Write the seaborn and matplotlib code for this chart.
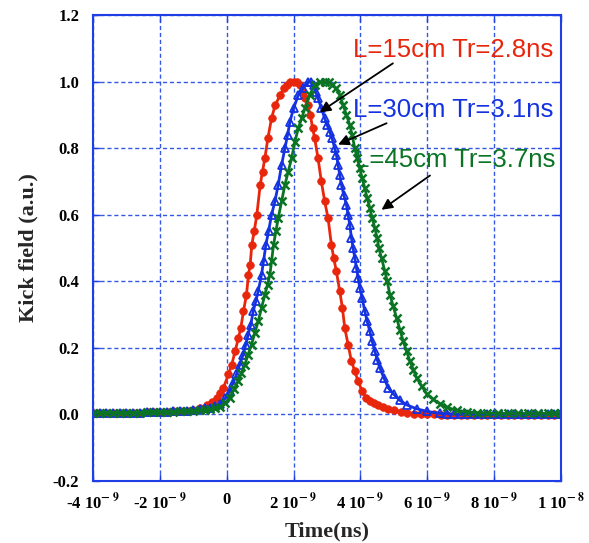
import numpy as np
import pandas as pd
import matplotlib
matplotlib.use("Agg")
import matplotlib.pyplot as plt
import seaborn as sns

# ---- data (time in ns, kick field in a.u.) ----
t_15 = [-4.0, -3.8, -3.6, -3.4, -3.2, -3.0, -2.8, -2.6, -2.4, -2.2, -2.0, -1.8, -1.6, -1.4, -1.2,
        -1.0, -0.8, -0.6, -0.45, -0.3, -0.2, -0.1, 0.05, 0.15, 0.25, 0.35, 0.42,
        0.50, 0.59, 0.65, 0.70, 0.75, 0.82, 0.90, 1.00, 1.07, 1.14, 1.23, 1.34, 1.45, 1.60, 1.70,
        1.80, 1.90, 2.00, 2.10, 2.20, 2.28, 2.35, 2.42, 2.50, 2.57, 2.63, 2.73, 2.83, 2.93, 3.03,
        3.13, 3.20, 3.28, 3.38, 3.46, 3.53, 3.63, 3.73, 3.83, 3.93, 4.05, 4.18, 4.30, 4.40, 4.53,
        4.67, 4.83, 5.00, 5.20, 5.40, 5.60, 5.80, 6.00, 6.2, 6.4, 6.6, 6.8, 7.0, 7.2, 7.4, 7.6, 7.8,
        8.0, 8.2, 8.4, 8.6, 8.8, 9.0, 9.2, 9.4, 9.6, 9.8, 10.0]
v_15 = [0.005, 0.005, 0.005, 0.005, 0.005, 0.005, 0.005, 0.005, 0.006, 0.006, 0.007, 0.008, 0.009, 0.010, 0.011,
        0.013, 0.018, 0.027, 0.037, 0.050, 0.063, 0.080, 0.12, 0.15, 0.19, 0.23, 0.26,
        0.31, 0.36, 0.42, 0.45, 0.51, 0.55, 0.60, 0.69, 0.73, 0.77, 0.83, 0.89, 0.93, 0.96, 0.98,
        0.99, 1.00, 1.00, 1.00, 0.99, 0.97, 0.95, 0.93, 0.90, 0.86, 0.83, 0.77, 0.70, 0.64, 0.59,
        0.51, 0.47, 0.43, 0.37, 0.32, 0.26, 0.21, 0.16, 0.13, 0.10, 0.07, 0.05, 0.04, 0.033, 0.027,
        0.022, 0.017, 0.012, 0.008, 0.004, 0.002, 0.001, 0.0, 0.0, -0.001, -0.001, -0.002, -0.002, -0.002, -0.002, -0.002, -0.002,
        -0.002, -0.002, -0.002, -0.002, -0.002, -0.002, -0.002, -0.002, -0.002, -0.002, -0.002]

t_30 = [-4.0, -3.8, -3.6, -3.4, -3.2, -3.0, -2.8, -2.6, -2.4, -2.2, -2.0, -1.8, -1.6, -1.4, -1.2,
        -1.0, -0.8, -0.65, -0.5, -0.35, -0.2, -0.05, 0.09, 0.19, 0.29, 0.39, 0.49, 0.57, 0.64, 0.72,
        0.79, 0.87, 0.94, 1.04, 1.10, 1.17, 1.25, 1.34, 1.44, 1.54, 1.64, 1.74, 1.82, 1.89, 2.00,
        2.14, 2.28, 2.44, 2.52, 2.60, 2.66, 2.73, 2.83, 2.93, 3.00, 3.08, 3.15, 3.23, 3.28, 3.33,
        3.38, 3.43, 3.50, 3.58, 3.63, 3.68, 3.73, 3.78, 3.83, 3.88, 3.93, 3.98, 4.05, 4.13, 4.20,
        4.28, 4.35, 4.43, 4.50, 4.58, 4.70, 4.83, 5.00, 5.18, 5.40, 5.68, 6.00, 6.38, 6.6, 6.8,
        7.0, 7.2, 7.4, 7.6, 7.8, 8.0, 8.2, 8.4, 8.6, 8.8, 9.0, 9.2, 9.4, 9.6, 9.8, 10.0]
v_30 = [0.005, 0.005, 0.005, 0.005, 0.005, 0.005, 0.005, 0.005, 0.006, 0.006, 0.007, 0.008, 0.009, 0.010, 0.011,
        0.012, 0.015, 0.018, 0.020, 0.025, 0.032, 0.048, 0.07, 0.095, 0.12, 0.15, 0.18, 0.21, 0.24, 0.27,
        0.31, 0.34, 0.37, 0.42, 0.46, 0.51, 0.55, 0.60, 0.64, 0.69, 0.75, 0.80, 0.84, 0.88, 0.92,
        0.96, 0.98, 1.00, 1.00, 0.99, 0.97, 0.95, 0.92, 0.89, 0.87, 0.85, 0.83, 0.80, 0.78, 0.75,
        0.72, 0.69, 0.66, 0.63, 0.60, 0.57, 0.53, 0.50, 0.47, 0.44, 0.41, 0.38, 0.35, 0.31, 0.28,
        0.25, 0.22, 0.19, 0.165, 0.14, 0.11, 0.08, 0.06, 0.042, 0.028, 0.017, 0.009, 0.003, 0.002, 0.001,
        0.0, 0.0, 0.0, 0.0, 0.0, 0.0, 0.0, 0.0, 0.0, 0.0, 0.0, 0.0, 0.0, 0.0, 0.0, 0.0]

t_45 = [-4.0, -3.8, -3.6, -3.4, -3.2, -3.0, -2.8, -2.6, -2.4, -2.2, -2.0, -1.8, -1.6, -1.4, -1.2,
        -1.0, -0.8, -0.65, -0.5, -0.35, -0.21, -0.05, 0.09, 0.22, 0.34, 0.44, 0.54, 0.64, 0.74, 0.84,
        0.94, 1.04, 1.14, 1.22, 1.29, 1.34, 1.40, 1.47, 1.54, 1.64, 1.74, 1.84, 1.94, 2.04, 2.14,
        2.24, 2.34, 2.48, 2.63, 2.78, 2.93, 3.05, 3.15, 3.28, 3.38, 3.48, 3.58, 3.68, 3.75, 3.83,
        3.90, 3.98, 4.05, 4.13, 4.20, 4.28, 4.35, 4.43, 4.50, 4.55, 4.63, 4.73, 4.80, 4.88, 4.98,
        5.08, 5.18, 5.28, 5.38, 5.48, 5.58, 5.68, 5.83, 5.98, 6.18, 6.38, 6.6, 6.88, 7.2, 7.5,
        7.8, 8.1, 8.4, 8.7, 9.0, 9.3, 9.6, 9.8, 10.0]
v_45 = [0.005, 0.005, 0.005, 0.005, 0.005, 0.005, 0.005, 0.005, 0.006, 0.006, 0.007, 0.007, 0.008, 0.009, 0.009,
        0.010, 0.012, 0.013, 0.015, 0.018, 0.022, 0.035, 0.05, 0.075, 0.10, 0.125, 0.15, 0.18, 0.21, 0.245,
        0.28, 0.32, 0.36, 0.39, 0.42, 0.46, 0.51, 0.55, 0.59, 0.64, 0.69, 0.73, 0.77, 0.82, 0.86,
        0.89, 0.92, 0.96, 0.99, 1.00, 1.00, 1.00, 0.99, 0.98, 0.96, 0.93, 0.90, 0.87, 0.84, 0.80,
        0.77, 0.74, 0.71, 0.68, 0.65, 0.62, 0.59, 0.56, 0.53, 0.50, 0.47, 0.43, 0.40, 0.36, 0.325,
        0.29, 0.255, 0.22, 0.19, 0.16, 0.135, 0.11, 0.085, 0.062, 0.045, 0.032, 0.021, 0.012, 0.007, 0.005,
        0.004, 0.003, 0.003, 0.003, 0.003, 0.003, 0.003, 0.003, 0.003]

labels = ["L=15cm Tr=2.8ns", "L=30cm Tr=3.1ns", "L=45cm Tr=3.7ns"]
x_ticks_ns = [-4, -2, 0, 2, 4, 6, 8, 10]
x_tick_labels = ["-4 10$^{\\mathbf{-\\ 9}}$", "-2 10$^{\\mathbf{-\\ 9}}$", "0",
                 "2 10$^{\\mathbf{-\\ 9}}$", "4 10$^{\\mathbf{-\\ 9}}$", "6 10$^{\\mathbf{-\\ 9}}$",
                 "8 10$^{\\mathbf{-\\ 9}}$", "1 10$^{\\mathbf{-\\ 8}}$"]
y_ticks = [-0.2, 0.0, 0.2, 0.4, 0.6, 0.8, 1.0, 1.2]
y_tick_labels = ["-0.2", "0.0", "0.2", "0.4", "0.6", "0.8", "1.0", "1.2"]

# ---- style ----
sns.set_style("white")
plt.rcParams["font.family"] = ["Liberation Serif", "DejaVu Serif"]
plt.rcParams["mathtext.fontset"] = "stix"

RED = "#e8260c"
BLUE = "#1432e0"
GREEN = "#0b7424"
AXBLUE = "#1f3fe6"
GRIDBLUE = "#3558e4"

fig = plt.figure(figsize=(5.89, 5.43), dpi=100)
ax = fig.add_axes([0.158, 0.1142, 0.7945, 0.858])

series = [
    (t_15, v_15, RED, dict(marker="o", markersize=5.5, markerfacecolor=RED, markeredgecolor=RED, markeredgewidth=0.5)),
    (t_30, v_30, BLUE, dict(marker="^", markersize=6, markerfacecolor="none", markeredgecolor=BLUE, markeredgewidth=1.3)),
    (t_45, v_45, GREEN, dict(marker="x", markersize=6, markeredgecolor=GREEN, markeredgewidth=1.8)),
]
for t, v, c, mk in series:
    df = pd.DataFrame({"t": np.array(t) * 1e-9, "v": v})
    sns.lineplot(data=df, x="t", y="v", ax=ax, color=c, linewidth=2.0, estimator=None,
                 sort=False, **mk)

ax.set_xlim(-4e-9, 1e-8)
ax.set_ylim(-0.2, 1.2)
ax.set_xticks(np.array(x_ticks_ns) * 1e-9)
ax.set_xticklabels(x_tick_labels, fontsize=12, fontweight="bold")
ax.set_yticks(y_ticks)
ax.set_yticklabels(y_tick_labels, fontsize=12, fontweight="bold")

ax.tick_params(axis="both", direction="in", length=5, width=1, color=AXBLUE,
               labelcolor="black", left=True, right=True, top=True, bottom=True)
ax.tick_params(axis="x", pad=8)
ax.tick_params(axis="y", pad=10)
ax.set_axisbelow(True)
ax.grid(True, color=GRIDBLUE, linestyle=(0, (3, 2)), linewidth=1)
for s in ax.spines.values():
    s.set_color(AXBLUE)
    s.set_linewidth(1.5)

ax.set_xlabel("Time(ns)", fontsize=16, fontweight="bold", labelpad=6)
ax.set_ylabel("Kick field (a.u.)", fontsize=16, fontweight="bold", labelpad=10)

# annotations
tfont = dict(fontsize=18.5, family=["Liberation Sans", "DejaVu Sans"], va="center", ha="left")
ax.text(3.77e-9, 1.096, labels[0], color=RED, **tfont)
ax.text(3.77e-9, 0.916, labels[1], color=BLUE, **tfont)
ax.text(3.83e-9, 0.766, labels[2], color=GREEN, **tfont)
ap = dict(arrowstyle="-|>", color="black", lw=1.3, mutation_scale=16, shrinkA=0, shrinkB=0)
ax.annotate("", xy=(2.78e-9, 0.908), xytext=(4.97e-9, 1.055), arrowprops=ap)
ax.annotate("", xy=(3.33e-9, 0.811), xytext=(4.78e-9, 0.875), arrowprops=ap)
ax.annotate("", xy=(4.63e-9, 0.615), xytext=(6.08e-9, 0.718), arrowprops=ap)

fig.savefig("out.png", dpi=100)
